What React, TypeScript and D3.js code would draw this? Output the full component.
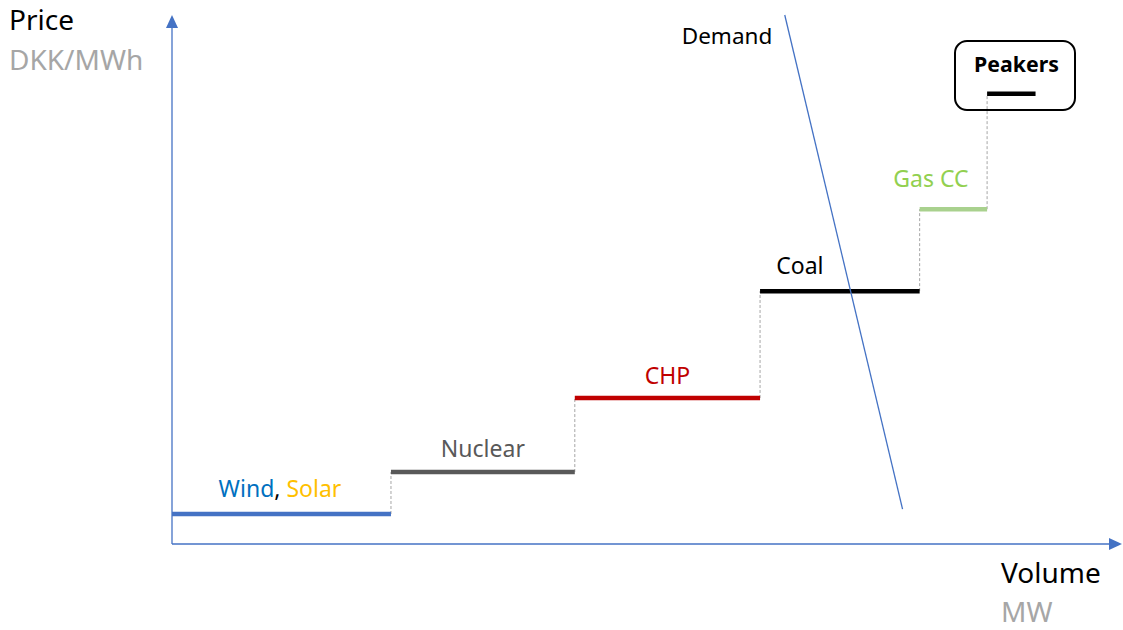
import React from "react";
import * as d3 from "d3";

const categories = ["Wind, Solar", "Nuclear", "CHP", "Coal", "Gas CC", "Peakers"];
const volumeStart = [0, 23.05, 42.4, 61.9, 78.7, 85.8];
const volumeEnd = [23.05, 42.4, 61.9, 78.7, 85.8, 90.9];
const prices = [5.67, 13.6, 27.6, 47.8, 63.3, 85.1];
const stepColors = ["#4472C4", "#595959", "#C00000", "#000000", "#A9D18E", "#000000"];
const labelColors = ["#0070C0", "#595959", "#C00000", "#000000", "#92D050", "#000000"];
const demandVolume = [64.5, 76.9];
const demandPrice = [100, 6.6];

const W = 1123;
const H = 630;
const FONT = "'Segoe UI', 'Noto Sans', 'Open Sans', sans-serif";

export default function App() {
  const x = d3.scaleLinear().domain([0, 100]).range([172, 1122]);
  const y = d3.scaleLinear().domain([0, 100]).range([544, 15]);
  const line = d3
    .line<[number, number]>()
    .x((d) => x(d[0]))
    .y((d) => y(d[1]));
  const demandPts: [number, number][] = demandVolume.map((v, i) => [v, demandPrice[i]]);

  const labelOffsets = [-17, -15, -14, -17, -22, 0];
  const labelShiftX = [-1.5, 0, 0, -40, -22.5, 0];

  return (
    <svg
      width={W}
      height={H}
      style={{ position: "absolute", left: 0, top: 0, background: "#fff" }}
      fontFamily={FONT}
    >
      {/* axes */}
      <line x1={x(0)} y1={y(0)} x2={x(0)} y2={y(100) + 12} stroke="#4472C4" strokeWidth={1.3} />
      <path d={`M${x(0)},${y(100)} L${x(0) - 6},${y(100) + 13} L${x(0) + 6},${y(100) + 13} Z`} fill="#4472C4" />
      <line x1={x(0)} y1={y(0)} x2={x(100) - 12} y2={y(0)} stroke="#4472C4" strokeWidth={1.3} />
      <path d={`M${x(100)},${y(0)} L${x(100) - 13},${y(0) - 6} L${x(100) - 13},${y(0) + 6} Z`} fill="#4472C4" />

      {/* axis titles */}
      <text x={9} y={30} fontSize={28} fill="#000">Price</text>
      <text x={9} y={70} fontSize={28} fill="#A6A6A6">DKK/MWh</text>
      <text x={1001} y={583} fontSize={28} fill="#000">Volume</text>
      <text x={1001} y={622} fontSize={28} fill="#A6A6A6">MW</text>

      {/* dashed connectors */}
      {categories.slice(1).map((c, i) => (
        <line
          key={"c" + c}
          x1={x(volumeStart[i + 1])}
          x2={x(volumeStart[i + 1])}
          y1={y(prices[i])}
          y2={y(prices[i + 1])}
          stroke="#A6A6A6"
          strokeWidth={1}
          strokeDasharray="3,2"
        />
      ))}

      {/* steps */}
      {categories.map((c, i) => (
        <line
          key={"s" + c}
          x1={x(volumeStart[i])}
          x2={x(volumeEnd[i])}
          y1={y(prices[i])}
          y2={y(prices[i])}
          stroke={stepColors[i]}
          strokeWidth={4.5}
        />
      ))}

      {/* demand */}
      <path d={line(demandPts) || ""} stroke="#4472C4" strokeWidth={1.3} fill="none" />
      <text x={x(demandVolume[0]) - 103} y={y(demandPrice[0]) + 29} fontSize={22.5} fill="#000">
        Demand
      </text>

      {/* labels */}
      {categories.map((c, i) => {
        const cx = (x(volumeStart[i]) + x(volumeEnd[i])) / 2 + labelShiftX[i];
        const cy = y(prices[i]) + labelOffsets[i];
        if (i === 0) {
          return (
            <text key={"l" + c} x={cx} y={cy} fontSize={23} textAnchor="middle">
              <tspan fill="#0070C0">Wind</tspan>
              <tspan fill="#000">, </tspan>
              <tspan fill="#FFC000">Solar</tspan>
            </text>
          );
        }
        if (i === 5) {
          return (
            <g key={"l" + c}>
              <rect x={955} y={41} width={120} height={69} rx={12} ry={12} fill="none" stroke="#000" strokeWidth={2} />
              <text x={1016.5} y={72} fontSize={21.3} fontWeight="bold" textAnchor="middle" fill="#000">
                {c}
              </text>
            </g>
          );
        }
        return (
          <text key={"l" + c} x={cx} y={cy} fontSize={23} textAnchor="middle" fill={labelColors[i]}>
            {c}
          </text>
        );
      })}
    </svg>
  );
}
